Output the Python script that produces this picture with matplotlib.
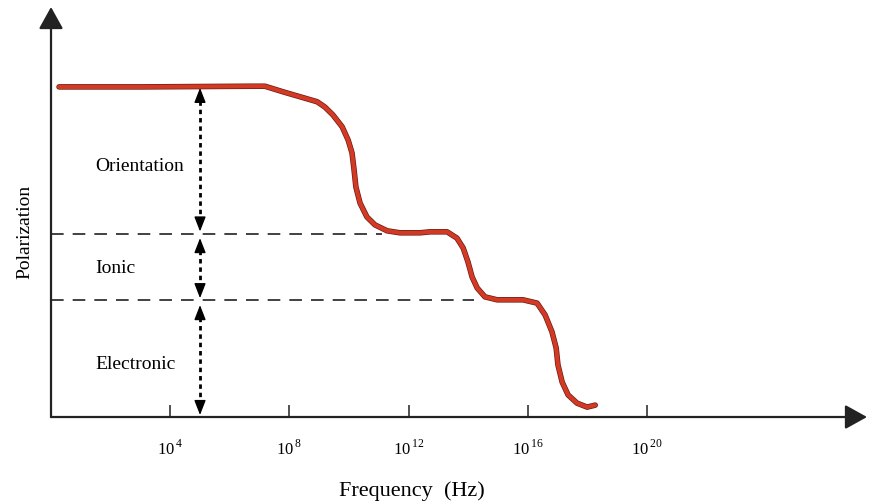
import matplotlib.pyplot as plt
import matplotlib.patheffects as pe

plt.rcParams['font.family'] = ['Liberation Serif', 'DejaVu Serif']
plt.rcParams['mathtext.fontset'] = 'custom'
plt.rcParams['mathtext.rm'] = 'Liberation Serif'

# Polarization curve (x = log10 of frequency)
curve_logf = [0.27, 3.0, 6.68, 7.18, 7.79, 8.36, 8.93, 9.19, 9.46, 9.77,
              9.97, 10.10, 10.17, 10.23, 10.37, 10.60, 10.87, 11.28, 11.71,
              12.38, 12.72, 13.29, 13.62, 13.83, 13.99, 14.13, 14.30, 14.56,
              14.97, 15.84, 16.31, 16.58, 16.81, 16.95, 17.01, 17.15, 17.35,
              17.65, 17.99, 18.26]
curve_p = [10.0, 10.0, 10.02, 10.02, 9.85, 9.70, 9.55, 9.39, 9.15, 8.79,
           8.39, 8.0, 7.48, 6.97, 6.48, 6.06, 5.82, 5.64, 5.58,
           5.58, 5.61, 5.61, 5.42, 5.12, 4.70, 4.24, 3.91, 3.64,
           3.55, 3.55, 3.45, 3.09, 2.58, 2.09, 1.58, 1.06, 0.67,
           0.42, 0.30, 0.36]

# levels of the dashed guide lines and where they stop
level_p = [5.55, 3.55]
level_end = [11.1, 14.2]

# double arrows (bottom, top) at 10^5 Hz
arrow_x = 5.0
arrow_spans = [(5.62, 9.97), (3.6, 5.42), (0.06, 3.39)]

region_names = ['Orientation', 'Ionic', 'Electronic']
region_p = [7.6, 4.5, 1.6]

tick_exp = [4, 8, 12, 16, 20]

fig = plt.figure(figsize=(8.69, 5.04), dpi=100)
ax = fig.add_axes([0.0587, 0.1726, 0.939, 0.8135])
ax.set_xlim(0, 27.38)
ax.set_ylim(0, 12.42)
for s in ax.spines.values():
    s.set_visible(False)

# axes with arrow heads
ax.annotate('', xy=(27.38, 0), xytext=(0, 0), annotation_clip=False,
            arrowprops=dict(arrowstyle='-|>,head_length=0.9,head_width=0.5',
                            mutation_scale=15, color='#222222', lw=1.6,
                            shrinkA=0, shrinkB=0))
ax.annotate('', xy=(0, 12.42), xytext=(0, 0), annotation_clip=False,
            arrowprops=dict(arrowstyle='-|>,head_length=0.9,head_width=0.5',
                            mutation_scale=15, color='#222222', lw=1.6,
                            shrinkA=0, shrinkB=0))

ax.set_xticks(tick_exp)
ax.set_xticklabels([r'$10^{\,%d}$' % e for e in tick_exp])
ax.tick_params(axis='x', direction='in', length=9, width=1.2, color='#333333',
               pad=16, labelsize=12)
ax.set_yticks([])

# guide lines
for p, xe in zip(level_p, level_end):
    ax.plot([0, xe], [p, p], color='#333333', lw=1.3, linestyle=(0, (7, 5)))

# dotted double arrows
for lo, hi in arrow_spans:
    ax.plot([arrow_x, arrow_x], [lo + 0.3, hi - 0.3], color='black', lw=2,
            linestyle=(0, (1.6, 1.4)))
    for tip, tail in [(hi, hi - 0.4), (lo, lo + 0.4)]:
        ax.annotate('', xy=(arrow_x, tip), xytext=(arrow_x, tail),
                    arrowprops=dict(arrowstyle='-|>,head_length=0.9,head_width=0.35',
                                    mutation_scale=10, color='black', lw=1,
                                    shrinkA=0, shrinkB=0))

for name, p in zip(region_names, region_p):
    ax.text(1.48, p, name, fontsize=14, va='center', ha='left')

ax.plot(curve_logf, curve_p, color='#d33a25', lw=3, solid_capstyle='round',
        solid_joinstyle='round',
        path_effects=[pe.Stroke(linewidth=4, foreground='#6b1a10',
                                joinstyle='round', capstyle='round'),
                      pe.Normal()])

fig.text(412 / 869, 1 - 491 / 504, 'Frequency  (Hz)', fontsize=16,
         ha='center', va='center')
fig.text(25 / 869, 1 - 232 / 504, 'Polarization', fontsize=14,
         rotation=90, ha='center', va='center')

fig.savefig('out.png', dpi=100)
